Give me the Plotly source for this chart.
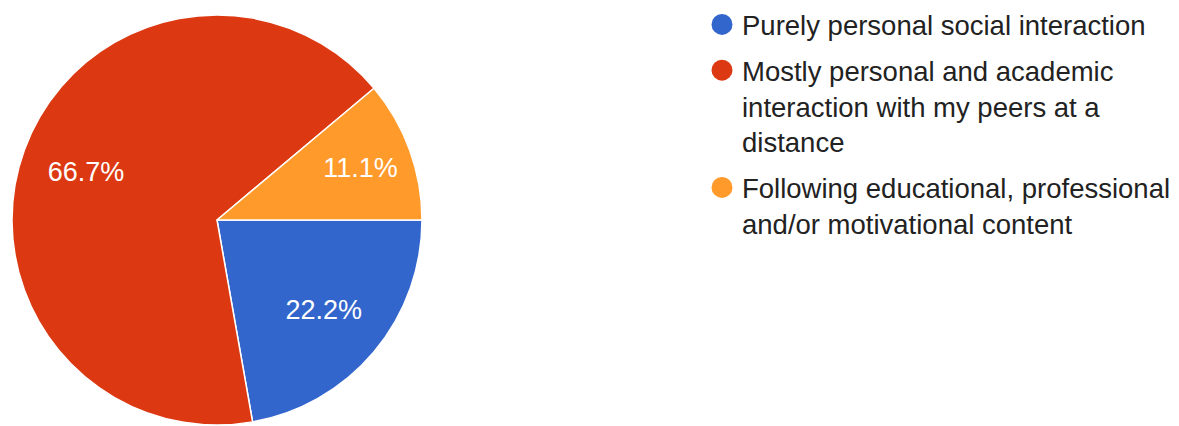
import plotly.graph_objects as go

labels = [
    "Purely personal social interaction",
    "Mostly personal and academic interaction with my peers at a distance",
    "Following educational, professional and/or motivational content",
]
legend_labels = [
    "Purely personal social interaction",
    "Mostly personal and academic<br>interaction with my peers at a<br>distance",
    "Following educational, professional<br>and/or motivational content",
]
counts = [2, 6, 1]
colors = ["#3366CC", "#DC3912", "#FF9A2B"]

W, H = 1179, 426
FONT = "Liberation Sans, Arial, sans-serif"
domain = dict(x=[12 / W, 422 / W], y=[1 - 425 / H, 1 - 15 / H])

fig = go.Figure()
# coloured slices
fig.add_trace(go.Pie(
    labels=labels,
    values=counts,
    sort=False,
    direction="clockwise",
    rotation=90,
    marker=dict(colors=colors, line=dict(color="white", width=1.5)),
    textinfo="none",
    showlegend=False,
    hoverinfo="label+percent",
    domain=domain,
))
# transparent ring carrying the percentage labels (places them further out)
fig.add_trace(go.Pie(
    labels=labels,
    values=counts,
    sort=False,
    direction="clockwise",
    rotation=90,
    hole=0.36,
    marker=dict(colors=["rgba(0,0,0,0)"] * len(counts), line=dict(width=0)),
    texttemplate="%{percent:.1%}",
    textposition="inside",
    insidetextorientation="horizontal",
    textfont=dict(family=FONT, size=27, color="white"),
    showlegend=False,
    hoverinfo="skip",
    domain=domain,
))

for i, (lab, col) in enumerate(zip(legend_labels, colors)):
    fig.add_trace(go.Scatter(
        x=[None], y=[None], mode="markers", name=lab,
        legendgroup=f"g{i}",
        marker=dict(symbol="circle", size=16, color=col, line=dict(color=col, width=5)),
    ))

fig.update_layout(
    width=W, height=H,
    margin=dict(l=0, r=0, t=0, b=0),
    paper_bgcolor="white", plot_bgcolor="white",
    font=dict(family=FONT, color="#222222"),
    xaxis=dict(visible=False), yaxis=dict(visible=False),
    legend=dict(
        x=702 / W, y=1, xanchor="left", yanchor="top",
        font=dict(family=FONT, size=27.5, color="#222222"),
        tracegroupgap=7,
        valign="top",
        bgcolor="rgba(0,0,0,0)",
    ),
)

fig.write_html("out.html")
